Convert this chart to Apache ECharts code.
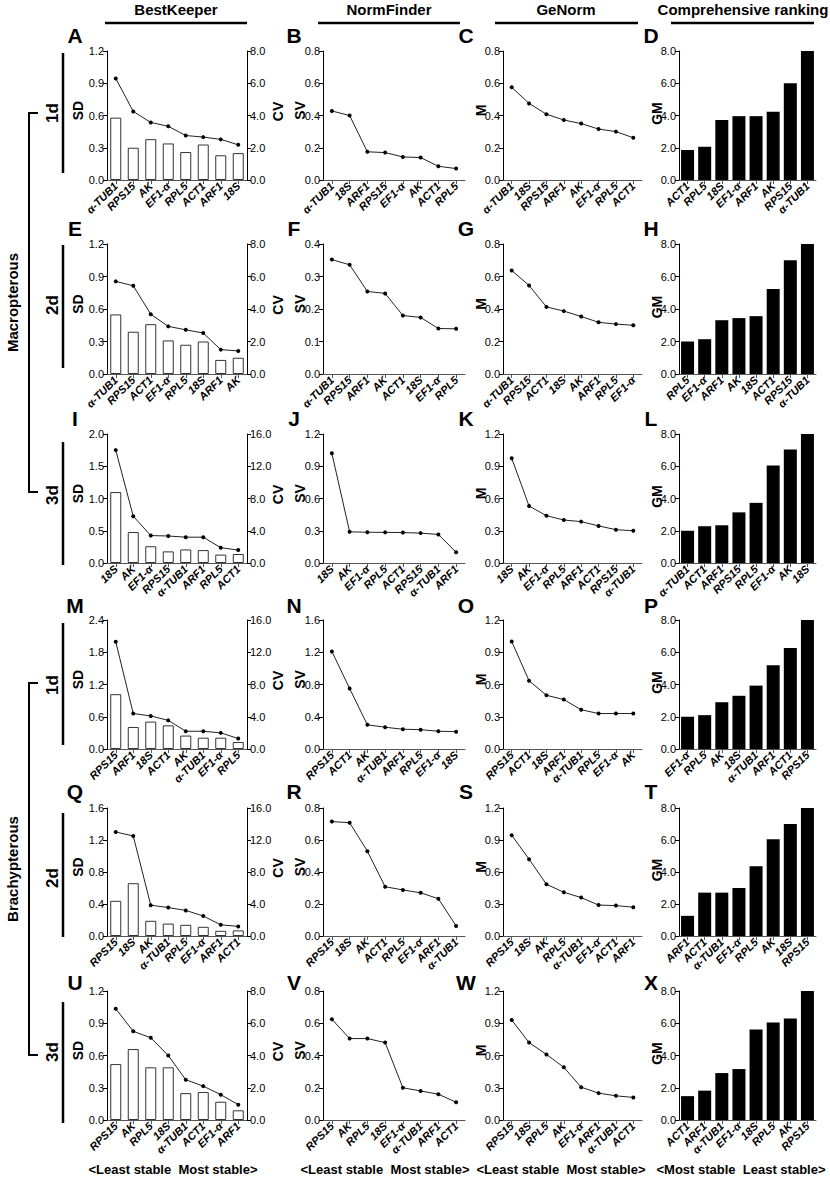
<!DOCTYPE html>
<html><head><meta charset="utf-8">
<script src="https://cdn.jsdelivr.net/npm/echarts@6/dist/echarts.min.js"></script>
<style>html,body{margin:0;padding:0;background:#fff}#c{width:830px;height:1177px}</style>
</head><body><div id="c"></div>
<script>
// ===== Macropterous 1d =====
const catA = ['α-TUB1','RPS15','AK','EF1-α','RPL5','ACT1','ARF1','18S'];
const sdA  = [0.58,0.30,0.38,0.34,0.26,0.33,0.23,0.25];
const cvA  = [6.3,4.25,3.57,3.33,2.76,2.66,2.52,2.18];
const catB = ['α-TUB1','18S','ARF1','RPS15','EF1-α','AK','ACT1','RPL5'];
const svB  = [0.428,0.400,0.175,0.170,0.143,0.139,0.085,0.071];
const catC = ['α-TUB1','18S','RPS15','ARF1','AK','EF1-α','RPL5','ACT1'];
const mC   = [0.575,0.475,0.408,0.372,0.350,0.316,0.300,0.262];
const catD = ['ACT1','RPL5','18S','EF1-α','ARF1','AK','RPS15','α-TUB1'];
const gmD  = [1.86,2.06,3.72,3.96,3.96,4.23,6.0,8.0];
// ===== Macropterous 2d =====
const catE = ['α-TUB1','RPS15','ACT1','EF1-α','RPL5','18S','ARF1','AK'];
const sdE  = [0.55,0.39,0.46,0.31,0.27,0.30,0.13,0.15];
const cvE  = [5.7,5.43,3.68,2.93,2.72,2.52,1.5,1.42];
const catF = ['α-TUB1','RPS15','ARF1','AK','ACT1','18S','EF1-α','RPL5'];
const svF  = [0.352,0.336,0.254,0.248,0.180,0.174,0.140,0.139];
const catG = ['α-TUB1','RPS15','ACT1','18S','AK','ARF1','RPL5','EF1-α'];
const mG   = [0.637,0.545,0.413,0.387,0.354,0.318,0.307,0.300];
const catH = ['RPL5','EF1-α','ARF1','AK','18S','ACT1','RPS15','α-TUB1'];
const gmH  = [2.0,2.14,3.31,3.44,3.56,5.23,7.0,8.0];
// ===== Macropterous 3d =====
const catI = ['18S','AK','EF1-α','RPS15','α-TUB1','ARF1','RPL5','ACT1'];
const sdI  = [1.10,0.48,0.26,0.18,0.21,0.20,0.13,0.14];
const cvI  = [14.0,5.8,3.4,3.35,3.2,3.2,1.9,1.6];
const catJ = ['18S','AK','EF1-α','RPL5','ACT1','RPS15','α-TUB1','ARF1'];
const svJ  = [1.02,0.29,0.286,0.285,0.283,0.278,0.265,0.10];
const catK = ['18S','AK','EF1-α','RPL5','ARF1','ACT1','RPS15','α-TUB1'];
const mK   = [0.975,0.53,0.44,0.40,0.385,0.345,0.31,0.30];
const catL = ['α-TUB1','ACT1','ARF1','RPS15','RPL5','EF1-α','AK','18S'];
const gmL  = [2.0,2.28,2.34,3.14,3.73,6.04,7.04,8.0];
// ===== Brachypterous 1d =====
const catM = ['RPS15','ARF1','18S','ACT1','AK','α-TUB1','EF1-α','RPL5'];
const sdM  = [1.02,0.41,0.51,0.44,0.25,0.21,0.21,0.13];
const cvM  = [13.3,4.4,4.1,3.55,2.2,2.2,2.0,1.3];
const catN = ['RPS15','ACT1','AK','α-TUB1','ARF1','RPL5','EF1-α','18S'];
const svN  = [1.21,0.75,0.30,0.27,0.245,0.24,0.22,0.215];
const catO = ['RPS15','ACT1','18S','ARF1','α-TUB1','RPL5','EF1-α','AK'];
const mO   = [1.0,0.635,0.50,0.46,0.365,0.33,0.33,0.33];
const catP = ['EF1-α','RPL5','AK','18S','α-TUB1','ARF1','ACT1','RPS15'];
const gmP  = [2.0,2.1,2.9,3.3,3.93,5.2,6.27,8.0];
// ===== Brachypterous 2d =====
const catQ = ['RPS15','18S','AK','α-TUB1','RPL5','EF1-α','ARF1','ACT1'];
const sdQ  = [0.44,0.66,0.19,0.155,0.14,0.115,0.065,0.07];
const cvQ  = [13.0,12.5,3.85,3.55,3.2,2.5,1.4,1.2];
const catR = ['RPS15','18S','AK','ACT1','RPL5','EF1-α','ARF1','α-TUB1'];
const svR  = [0.715,0.708,0.53,0.308,0.288,0.27,0.233,0.063];
const catS = ['RPS15','18S','AK','RPL5','α-TUB1','EF1-α','ACT1','ARF1'];
const mS   = [0.945,0.72,0.485,0.41,0.36,0.29,0.285,0.27];
const catT = ['ARF1','ACT1','α-TUB1','EF1-α','RPL5','AK','18S','RPS15'];
const gmT  = [1.26,2.71,2.71,3.0,4.36,6.05,7.0,8.0];
// ===== Brachypterous 3d =====
const catU = ['RPS15','AK','RPL5','18S','α-TUB1','ACT1','EF1-α','ARF1'];
const sdU  = [0.52,0.66,0.49,0.49,0.25,0.26,0.17,0.09];
const cvU  = [6.9,5.5,5.1,4.0,2.5,2.1,1.57,0.95];
const catV = ['RPS15','AK','RPL5','18S','EF1-α','α-TUB1','ARF1','ACT1'];
const svV  = [0.625,0.505,0.505,0.48,0.20,0.18,0.16,0.11];
const catW = ['RPS15','18S','RPL5','AK','EF1-α','ARF1','α-TUB1','ACT1'];
const mW   = [0.93,0.72,0.61,0.49,0.305,0.25,0.225,0.21];
const catX = ['ACT1','ARF1','α-TUB1','EF1-α','18S','RPL5','AK','RPS15'];
const gmX  = [1.48,1.82,2.91,3.16,5.62,6.04,6.3,8.0];

// text labels
const colTitles = ['BestKeeper','NormFinder','GeNorm','Comprehensive ranking'];
const axisNames = ['SD','SV','M','GM'];
const rightAxisName = 'CV';
const letters = [['A','B','C','D'],['E','F','G','H'],['I','J','K','L'],['M','N','O','P'],['Q','R','S','T'],['U','V','W','X']];
const dayLabels = ['1d','2d','3d','1d','2d','3d'];
const groupLabels = ['Macropterous','Brachypterous'];
const bottomTexts = ['<Least stable  Most stable>','<Least stable  Most stable>','<Least stable  Most stable>','<Most stable  Least stable>'];

const rowsData = [
  [[catA,sdA,cvA],[catB,svB],[catC,mC],[catD,gmD]],
  [[catE,sdE,cvE],[catF,svF],[catG,mG],[catH,gmH]],
  [[catI,sdI,cvI],[catJ,svJ],[catK,mK],[catL,gmL]],
  [[catM,sdM,cvM],[catN,svN],[catO,mO],[catP,gmP]],
  [[catQ,sdQ,cvQ],[catR,svR],[catS,mS],[catT,gmT]],
  [[catU,sdU,cvU],[catV,svV],[catW,mW],[catX,gmX]]
];
// axis scales per row: [max, interval]
const rowScales = [
  {sd:[1.2,0.3], cv:[8,2],  sv:[0.8,0.2], m:[0.8,0.2]},
  {sd:[1.2,0.3], cv:[8,2],  sv:[0.4,0.1], m:[0.8,0.2]},
  {sd:[2.0,0.5], cv:[16,4], sv:[1.2,0.3], m:[1.2,0.3]},
  {sd:[2.4,0.6], cv:[16,4], sv:[1.6,0.4], m:[1.2,0.3]},
  {sd:[1.6,0.4], cv:[16,4], sv:[0.8,0.2], m:[1.2,0.3]},
  {sd:[1.2,0.3], cv:[8,2],  sv:[0.8,0.2], m:[1.2,0.3]}
];

// ===== layout =====
const FONT = 'Arial, "Liberation Sans", Helvetica, sans-serif';
const colX = [[107,247],[323,465],[503,642],[679,816]];
const rowY = [[51,180],[244,374],[434,563],[620,749],[808,936],[991,1120]];
const nameX = [78,300,481,657];
const nameRightX = 278;
const letterX = [75,294,466,651];
const letterY = [35,228,418,605,791,982];
const titleX = [176,389,566,743];
const underline = [[105,247],[318,460],[495,638],[671,814]];
const dayY = [113,305,495,685,878,1052];
const dayLine = [[53,173],[245,368],[442,565],[623,745],[813,937],[1002,1123]];
const bottomX = [173,385,561,741];

const grids=[], xAxes=[], yAxes=[], series=[], graphic=[];
const fmt = v => v.toFixed(1);

function txt(x, y, text, font, rot){
  const o = {type:'text', x:x, y:y,
    style:{text:text, font:font, fill:'#000', align:'center', verticalAlign:'middle', textAlign:'center', textVerticalAlign:'middle'}};
  if (rot) o.rotation = rot;
  graphic.push(o);
}
function yAx(gi, max, interval, pos){
  yAxes.push({
    type:'value', gridIndex:gi, min:0, max:max, interval:interval, position:pos||'left',
    axisLine:{show:true, lineStyle:{color:'#000', width:1}},
    axisTick:{show:true, length:4, lineStyle:{color:'#000'}},
    splitLine:{show:false},
    axisLabel:{formatter:fmt, fontFamily:FONT, fontSize:11, color:'#000', margin:3}
  });
  return yAxes.length-1;
}
function xAx(gi, cats){
  xAxes.push({
    type:'category', gridIndex:gi, data:cats, boundaryGap:true,
    axisLine:{show:true, onZero:false, lineStyle:{color:'#555', width:1}},
    axisTick:{show:true, alignWithLabel:true, length:4, lineStyle:{color:'#555'}},
    axisLabel:{interval:0, rotate:45, fontFamily:FONT, fontSize:11, fontStyle:'italic', fontWeight:'bold', color:'#000', margin:4}
  });
  return xAxes.length-1;
}

rowsData.forEach((row, r) => {
  const sc = rowScales[r];
  const midY = (rowY[r][0] + rowY[r][1]) / 2;
  row.forEach((pd, c) => {
    const gi = grids.length;
    grids.push({left:colX[c][0], top:rowY[r][0], width:colX[c][1]-colX[c][0], height:rowY[r][1]-rowY[r][0]});
    const xi = xAx(gi, pd[0]);
    if (c === 0) {
      const yl = yAx(gi, sc.sd[0], sc.sd[1], 'left');
      const yr = yAx(gi, sc.cv[0], sc.cv[1], 'right');
      series.push({type:'bar', xAxisIndex:xi, yAxisIndex:yl, data:pd[1], barWidth:11,
        itemStyle:{color:'#fff', borderColor:'#333', borderWidth:1}});
      series.push({type:'line', xAxisIndex:xi, yAxisIndex:yr, data:pd[2], symbol:'circle', symbolSize:4,
        lineStyle:{color:'#222', width:1}, itemStyle:{color:'#000'}});
      txt(nameRightX, midY - 4, rightAxisName, 'bold 14px '+FONT, Math.PI/2);
    } else if (c === 3) {
      const yl = yAx(gi, 8, 2, 'left');
      series.push({type:'bar', xAxisIndex:xi, yAxisIndex:yl, data:pd[1], barWidth:13,
        itemStyle:{color:'#000'}});
    } else {
      const s = c === 1 ? sc.sv : sc.m;
      const yl = yAx(gi, s[0], s[1], 'left');
      series.push({type:'line', xAxisIndex:xi, yAxisIndex:yl, data:pd[1], symbol:'circle', symbolSize:4,
        lineStyle:{color:'#222', width:1}, itemStyle:{color:'#000'}});
    }
    txt(nameX[c], midY - (c === 3 ? 2 : 5), axisNames[c], 'bold 14px '+FONT, Math.PI/2);
    txt(letterX[c], letterY[r], letters[r][c], 'bold 21px '+FONT);
  });
});

// column titles, underlines and bottom texts
colTitles.forEach((t,i)=>{
  txt(titleX[i], 9, t, 'bold 15px '+FONT);
  graphic.push({type:'line', shape:{x1:underline[i][0], y1:23, x2:underline[i][1], y2:23}, style:{stroke:'#000', lineWidth:2.5}});
  txt(bottomX[i], 1169, bottomTexts[i], 'bold 13px '+FONT);
});
// day labels and lines
dayLabels.forEach((t,i)=>{
  txt(52, dayY[i], t, 'bold 17px '+FONT, Math.PI/2);
  graphic.push({type:'line', shape:{x1:63, y1:dayLine[i][0], x2:63, y2:dayLine[i][1]}, style:{stroke:'#000', lineWidth:2.5}});
});
// group labels and brackets
const brackets = [[113,492],[683,1055]];
groupLabels.forEach((t,i)=>{
  const b = brackets[i];
  txt(12, (b[0]+b[1])/2, t, 'bold 15px '+FONT, Math.PI/2);
  graphic.push({type:'polyline', shape:{points:[[38,b[0]],[29,b[0]],[29,b[1]],[38,b[1]]]}, style:{stroke:'#000', lineWidth:2, fill:null}});
});

const chart = echarts.init(document.getElementById('c'), null, {renderer:'svg', width:830, height:1177});
chart.setOption({
  animation:false,
  backgroundColor:'#fff',
  grid:grids, xAxis:xAxes, yAxis:yAxes, series:series, graphic:graphic
});
</script></body></html>
